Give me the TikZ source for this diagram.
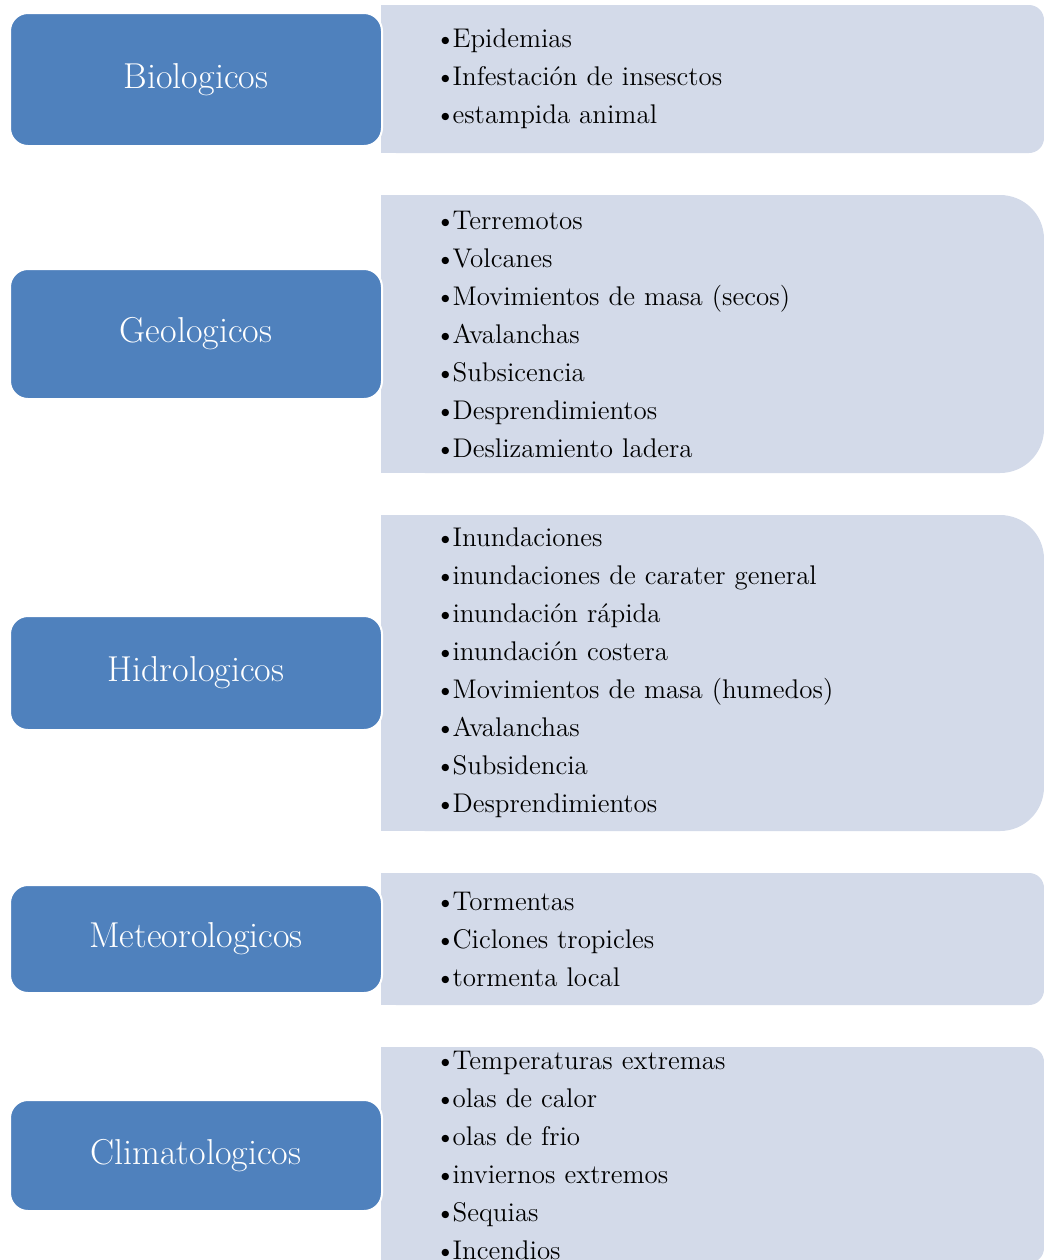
\documentclass[tikz,border=0pt]{standalone}
\definecolor{catblue}{HTML}{4F81BD}
\definecolor{listfill}{HTML}{D3DAE9}
\newcommand{\itembullet}{\textbullet\kern-1.5pt}
\begin{document}
\begin{tikzpicture}[
        x=0.5pt, y=-0.5pt,
        category/.style={fill=catblue, draw=white, line width=1pt, rounded corners=9pt,
            text=white, font=\fontsize{18}{22}\selectfont, minimum width=186pt},
        items/.style={fill=listfill, align=left, text width=277.5pt, inner sep=0pt,
            minimum width=331.5pt, font=\fontsize{13.5}{19}\selectfont}
    ]
        \clip (0,0) rectangle (1044,1260);
        \node[items, rounded corners=7.5pt, minimum height=74pt] (biolist) at (712.5,79)
            {\itembullet Epidemias\\\itembullet Infestación de insesctos\\\itembullet estampida animal};
        \node[items, rounded corners=22pt, minimum height=139pt] (geolist) at (712.5,334)
            {\itembullet Terremotos\\\itembullet Volcanes\\\itembullet Movimientos de masa (secos)\\
             \itembullet Avalanchas\\\itembullet Subsicencia\\\itembullet Desprendimientos\\
             \itembullet Deslizamiento ladera};
        \node[items, rounded corners=22pt, minimum height=158pt] (hidrolist) at (712.5,673)
            {\itembullet Inundaciones\\\itembullet inundaciones de carater general\\
             \itembullet inundación rápida\\\itembullet inundación costera\\
             \itembullet Movimientos de masa (humedos)\\\itembullet Avalanchas\\
             \itembullet Subsidencia\\\itembullet Desprendimientos};
        \node[items, rounded corners=7.5pt, minimum height=66pt] (meteolist) at (712.5,939)
            {\itembullet Tormentas\\\itembullet Ciclones tropicles\\\itembullet tormenta local};
        \node[items, rounded corners=7.5pt, minimum height=108pt] (climalist) at (712.5,1155)
            {\itembullet Temperaturas extremas\\\itembullet olas de calor\\\itembullet olas de frio\\
             \itembullet inviernos extremos\\\itembullet Sequias\\\itembullet Incendios};
        \foreach \n in {biolist,geolist,hidrolist,meteolist,climalist}
            \fill[listfill] (\n.north west) rectangle ([xshift=25pt]\n.south west);
        \node[category, minimum height=66.5pt] (bio) at (196,79.5) {Biologicos};
        \node[category, minimum height=65pt] (geo) at (196,334) {Geologicos};
        \node[category, minimum height=57pt] (hidro) at (196,673) {Hidrologicos};
        \node[category, minimum height=54pt] (meteo) at (196,939) {Meteorologicos};
        \node[category, minimum height=55.5pt] (clima) at (196,1155.5) {Climatologicos};
    \end{tikzpicture}
\end{document}
